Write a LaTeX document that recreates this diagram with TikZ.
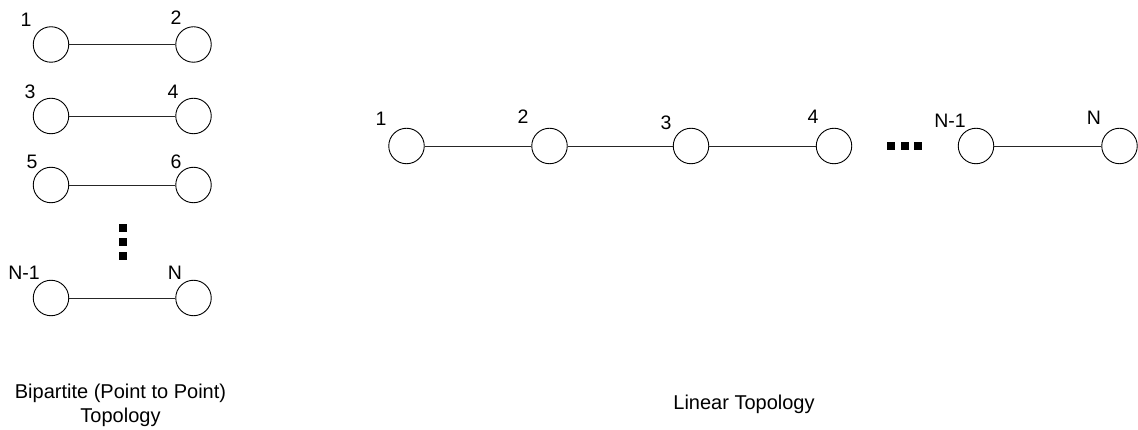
\documentclass[tikz,border=0pt]{standalone}
\usepackage{fontspec}
\setmainfont{Liberation Sans}
\begin{document}
\begin{tikzpicture}[x=1pt,y=-1pt,
  vtx/.style={circle,draw=black,line width=0.9pt,minimum size=35.5pt,inner sep=0pt},
  lbl/.style={inner sep=0pt,font=\fontsize{19.5}{22}\selectfont},
  captxt/.style={inner sep=0pt,align=center,font=\fontsize{20}{24}\selectfont},
  sq/.style={fill=black,minimum size=7.5pt,inner sep=0pt},
  link/.style={line width=0.9pt,draw=black!85}]
\useasboundingbox (0,0) rectangle (1138,430);
% Bipartite
\node[vtx] (b1) at (51,44.5) {};
\node[vtx] (b2) at (193.5,44.5) {};
\node[vtx] (b3) at (51,116) {};
\node[vtx] (b4) at (193.5,116) {};
\node[vtx] (b5) at (51,185) {};
\node[vtx] (b6) at (193.5,185) {};
\node[vtx] (b7) at (51,298) {};
\node[vtx] (b8) at (193.5,298) {};
\draw[link] (b1) -- (b2);
\draw[link] (b3) -- (b4);
\draw[link] (b5) -- (b6);
\draw[link] (b7) -- (b8);
\node[lbl] (lb1) at (26,20) {1};
\node[lbl] (lb2) at (176,18) {2};
\node[lbl] (lb3) at (30,92) {3};
\node[lbl] (lb4) at (173,92) {4};
\node[lbl] (lb5) at (32,162) {5};
\node[lbl] (lb6) at (176,162) {6};
\node[lbl] (lb7) at (24,273) {N-1};
\node[lbl] (lb8) at (175,273) {N};
\node[sq] (vd1) at (123,228) {};
\node[sq] (vd2) at (123,242) {};
\node[sq] (vd3) at (123,256) {};
% Linear
\node[vtx] (l1) at (406.5,146) {};
\node[vtx] (l2) at (549.5,146) {};
\node[vtx] (l3) at (691,146) {};
\node[vtx] (l4) at (834,146) {};
\node[vtx] (l5) at (976,146) {};
\node[vtx] (l6) at (1119.5,146) {};
\draw[link] (l1) -- (l2);
\draw[link] (l2) -- (l3);
\draw[link] (l3) -- (l4);
\draw[link] (l5) -- (l6);
\node[lbl] (ll1) at (381,119) {1};
\node[lbl] (ll2) at (523,117) {2};
\node[lbl] (ll3) at (666,123) {3};
\node[lbl] (ll4) at (813,117) {4};
\node[lbl] (ll5) at (950,121) {N-1};
\node[lbl] (ll6) at (1094,118) {N};
\node[sq] (hd1) at (891,146) {};
\node[sq] (hd2) at (905,146) {};
\node[sq] (hd3) at (918,146) {};
% captions
\node[captxt] (c1) at (120.5,405) {Bipartite (Point to Point)\\Topology};
\node[captxt] (c2) at (744,404) {Linear Topology};
\end{tikzpicture}
\end{document}
